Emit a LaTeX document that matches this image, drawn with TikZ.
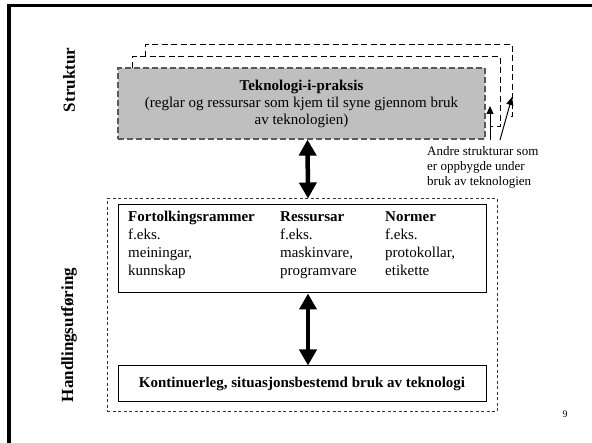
\documentclass[tikz,border=0pt]{standalone}
\usepackage{fontspec}
\setmainfont{Liberation Serif}
\usepackage{tikz}
\usetikzlibrary{arrows.meta,positioning}

\begin{document}
\begin{tikzpicture}[x=1pt, y=-1pt,
    graybox/.style={rectangle, draw=black!65, fill=black!25, line width=1.2pt, dash pattern=on 6pt off 3pt, minimum width=367pt, minimum height=71pt, align=center, font=\fontsize{15}{17}\selectfont},
    outline/.style={line width=1pt, dash pattern=on 6pt off 3.5pt},
    dashbox/.style={rectangle, draw=black!80, line width=1pt, dash pattern=on 3pt off 2.5pt, minimum width=390pt, minimum height=213pt},
    box/.style={rectangle, draw, line width=1pt, minimum width=368pt, font=\fontsize{15}{18}\selectfont},
    col/.style={anchor=north west, inner sep=0pt, align=left, font=\fontsize{15}{18}\selectfont},
    bigarrow/.style={{Triangle[length=16pt,width=17pt]}-{Triangle[length=16pt,width=17pt]}, line width=4.5pt},
    smallarrow/.style={-{Triangle[length=8pt,width=7pt]}, line width=1pt},
    side/.style={rotate=90, font=\fontsize{17}{20}\selectfont\bfseries}
]
    \useasboundingbox (0,0) rectangle (592,443);

    % Frame
    \draw[line width=3.5pt] (9,443) -- (9,5.5) -- (592,5.5);

    % Side labels
    \node[side] (struktur) at (69,80) {Struktur};
    \node[side] (handl) at (69,335) {Handlingsutføring};

    % Other structures behind
    \draw[outline] (145,57) |- (512,45) |- (507,117);
    \draw[outline] (132,68) |- (500,57) |- (490,127);

    % Technology-in-practice
    \node[graybox] (praksis) at (301.5,103.5) {\textbf{Teknologi-i-praksis}\\(reglar og ressursar som kjem til syne gjennom bruk\\av teknologien)};

    % Small arrows
    \coordinate (a1) at (490,140);
    \coordinate (t1) at (490,106);
    \coordinate (a2) at (500,140);
    \coordinate (t2) at (512,97);
    \draw[smallarrow] (a1) -- (t1);
    \draw[smallarrow] (a2) -- (t2);
    \node[col, font=\fontsize{13}{15}\selectfont] (andre) at (427,146) {Andre strukturar som\\er oppbygde under\\bruk av teknologien};

    % Action
    \node[dashbox] (handling) at (302,305.5) {};
    \node[box, minimum height=88pt] (rammer) at (302,249) {};
    \node[col] (tolk) at (128,211) {\textbf{Fortolkingsrammer}\\f.eks.\\meiningar,\\kunnskap};
    \node[col] (ress) at (280,211) {\textbf{Ressursar}\\f.eks.\\maskinvare,\\programvare};
    \node[col] (norm) at (385,211) {\textbf{Normer}\\f.eks.\\protokollar,\\etikette};
    \node[box, minimum height=36pt, font=\fontsize{15}{18}\selectfont\bfseries, below=72pt of rammer] (bruk) {Kontinuerleg, situasjonsbestemd bruk av teknologi};

    % Arrows
    \draw[bigarrow] ([xshift=6pt]praksis.south) -- ([xshift=6pt]handling.north);
    \draw[bigarrow] ([xshift=6pt]rammer.south) -- ([xshift=6pt]bruk.north);

    % Page number
    \node[font=\fontsize{10}{12}\selectfont] (pagenr) at (565,414) {9};
\end{tikzpicture}
\end{document}
